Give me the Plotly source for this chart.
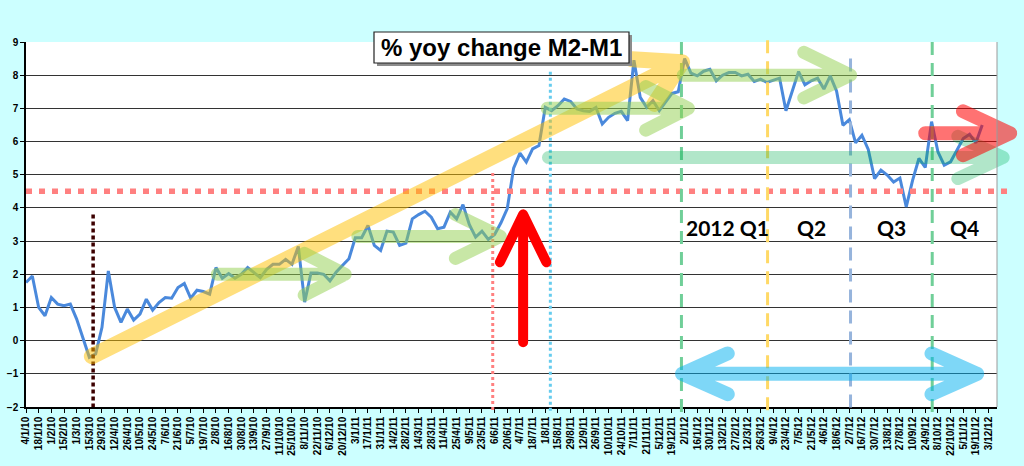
import math
import plotly.graph_objects as go

# ---------------- data ----------------
tick_labels = [
    "4/1/10", "18/1/10", "1/2/10", "15/2/10", "1/3/10", "15/3/10", "29/3/10", "12/4/10",
    "26/4/10", "10/5/10", "24/5/10", "7/6/10", "21/6/10", "5/7/10", "19/7/10", "2/8/10",
    "16/8/10", "30/8/10", "13/9/10", "27/9/10", "11/10/10", "25/10/10", "8/11/10",
    "22/11/10", "6/12/10", "20/12/10",
    "3/1/11", "17/1/11", "31/1/11", "14/2/11", "28/2/11", "14/3/11", "28/3/11", "11/4/11",
    "25/4/11", "9/5/11", "23/5/11", "6/6/11", "20/6/11", "4/7/11", "18/7/11", "1/8/11",
    "15/8/11", "29/8/11", "12/9/11", "26/9/11", "10/10/11", "24/10/11", "7/11/11",
    "21/11/11", "5/12/11", "19/12/11",
    "2/1/12", "16/1/12", "30/1/12", "13/2/12", "27/2/12", "12/3/12", "26/3/12", "9/4/12",
    "23/4/12", "7/5/12", "21/5/12", "4/6/12", "18/6/12", "2/7/12", "16/7/12", "30/7/12",
    "13/8/12", "27/8/12", "10/9/12", "24/9/12", "8/10/12", "22/10/12", "5/11/12",
    "19/11/12", "3/12/12",
]
weeks_per_tick = 2

# weekly % yoy change M2-M1 (week 0 = 4/1/10)
m2_m1_yoy = [
    1.75, 1.95, 1.00, 0.75, 1.30, 1.10, 1.05, 1.10, 0.65, 0.10,
    -0.50, -0.40, 0.40, 2.10, 1.00, 0.55, 0.95, 0.62, 0.80, 1.25,
    0.92, 1.15, 1.30, 1.28, 1.60, 1.72, 1.28, 1.52, 1.48, 1.40,
    2.20, 1.88, 2.02, 1.88, 2.00, 2.20, 2.05, 1.90, 2.15, 2.30,
    2.30, 2.45, 2.30, 2.84, 1.16, 2.04, 2.04, 2.00, 1.80, 2.07,
    2.27, 2.47, 3.10, 3.10, 3.47, 2.87, 2.72, 3.30, 3.27, 2.87,
    2.94, 3.67, 3.80, 3.90, 3.72, 3.37, 3.42, 3.87, 3.67, 4.10,
    3.50, 3.12, 3.30, 3.05, 3.20, 3.55, 3.98, 5.20, 5.65, 5.38,
    5.78, 5.88, 7.03, 6.93, 7.08, 7.28, 7.21, 6.98, 6.93, 6.91,
    7.03, 6.53, 6.73, 6.85, 6.91, 6.63, 8.45, 7.33, 7.03, 7.23,
    6.93, 7.18, 7.45, 7.50, 8.50, 8.06, 7.98, 8.12, 8.18, 7.83,
    8.00, 8.08, 8.08, 7.98, 8.03, 7.81, 7.88, 7.78, 7.85, 7.91,
    6.93, 7.53, 8.11, 7.71, 7.83, 7.91, 7.58, 7.98, 7.52, 6.49,
    6.66, 5.96, 6.19, 5.76, 4.88, 5.14, 4.99, 4.78, 4.90, 4.03,
    4.83, 5.49, 5.22, 6.60, 5.69, 5.29, 5.39, 5.74, 6.09, 6.22,
    5.96, 6.50,
]
weeks = list(range(len(m2_m1_yoy)))
tick_positions = [i * weeks_per_tick for i in range(len(tick_labels))]

title_text = "% yoy change M2-M1"
quarter_labels = ["2012 Q1", "Q2", "Q3", "Q4"]
quarter_label_x = [110.7, 124.1, 136.6, 148.2]   # in weeks
quarter_label_y = [3.4, 3.4, 3.4, 3.4]

# ---------------- layout geometry ----------------
W, H = 1024, 466
ML, MR, MT, MB = 26, 27, 42, 59
PW, PH = W - ML - MR, H - MT - MB
X0, X1 = 0, 153.33
Y0, Y1 = -2, 9


def px(w, v):
    return (w - X0) / (X1 - X0) * PW, (v - Y0) / (Y1 - Y0) * PH


def paper(p):
    return p[0] / PW, p[1] / PH


def pt(p):
    x, y = paper(p)
    return f"{x:.5f},{y:.5f}"


def head(tip, tail, L, ang):
    dx, dy = tip[0] - tail[0], tip[1] - tail[1]
    n = math.hypot(dx, dy)
    ux, uy = -dx / n, -dy / n
    a = math.radians(ang)
    w1 = (tip[0] + L * (ux * math.cos(a) - uy * math.sin(a)),
          tip[1] + L * (ux * math.sin(a) + uy * math.cos(a)))
    w2 = (tip[0] + L * (ux * math.cos(-a) - uy * math.sin(-a)),
          tip[1] + L * (ux * math.sin(-a) + uy * math.cos(-a)))
    return w1, w2


def arrow_path(tail_wv, tip_wv, L, ang, double=False):
    tail = px(*tail_wv)
    tip = px(*tip_wv)
    w1, w2 = head(tip, tail, L, ang)
    d = f"M {pt(tail)} L {pt(tip)} M {pt(w1)} L {pt(tip)} L {pt(w2)}"
    if double:
        b1, b2 = head(tail, tip, L, ang)
        d += f" M {pt(b1)} L {pt(tail)} L {pt(b2)}"
    return d


# arrows: (tail (week, value), tip (week, value), head len px, head angle, width, colour, opacity, double)
arrows = [
    ((10.4, -0.47), (103.6, 8.39), 50, 30, 16, "rgb(255,192,0)", 0.5, False),
    ((30.2, 2.0), (50.4, 2.0), 46, 27, 13, "rgb(146,208,80)", 0.5, False),
    ((52.4, 3.14), (74.9, 3.14), 50, 26, 13, "rgb(146,208,80)", 0.5, False),
    ((82.3, 7.0), (104.6, 7.0), 48, 27, 13, "rgb(146,208,80)", 0.5, False),
    ((103.8, 8.0), (130.2, 8.0), 52, 26, 13, "rgb(146,208,80)", 0.5, False),
    ((82.5, 5.52), (154.3, 5.52), 50, 25, 13, "rgb(0,176,80)", 0.3, False),
    ((142.0, 6.25), (155.4, 6.25), 52, 25, 14, "rgb(255,0,0)", 0.55, False),
    ((103.6, -1.0), (150.2, -1.0), 50, 24, 14, "rgb(0,176,240)", 0.5, True),
    ((78.5, -0.05), (78.5, 3.8), 53, 26, 10, "rgb(255,0,0)", 1.0, False),
]

# reference lines: (w0, v0, w1, v1, colour, width, dash)
ref_lines = [
    (0, 4.5, 155.1, 4.5, "#FF8080", 5.5, "6px,7px"),
    (10.6, 3.8, 10.6, -2.0, "#3C0000", 3.5, "4px,3px"),
    (73.7, 5.05, 73.7, -2.15, "#FF8080", 3, "3px,3px"),
    (82.8, 8.1, 82.8, -2.15, "#66CCEE", 3, "3px,3px"),
    (103.5, 9.0, 103.5, -2.15, "#70CF98", 3, "13px,8px"),
    (117.1, 9.05, 117.1, -2.15, "#FFD966", 3, "13px,8px"),
    (130.2, 8.5, 130.2, -2.15, "#96B4DC", 3, "13px,8px"),
    (143.1, 9.0, 143.1, -2.15, "#70CF98", 3, "13px,8px"),
]

fig = go.Figure()
fig.add_trace(go.Scatter(
    x=weeks, y=m2_m1_yoy, mode="lines",
    line=dict(color="#4A89DC", width=3), hoverinfo="skip", showlegend=False,
))

shapes = []
for (w0, v0, w1, v1, col, lw, dash) in ref_lines:
    a = paper(px(w0, v0))
    b = paper(px(w1, v1))
    shapes.append(dict(type="line", xref="paper", yref="paper", x0=a[0], y0=a[1], x1=b[0], y1=b[1],
                       line=dict(color=col, width=lw, dash=dash), layer="above"))

arrow_idx = []
for (tail, tip, L, ang, lw, col, op, dbl) in arrows:
    arrow_idx.append(len(shapes))
    shapes.append(dict(type="path", xref="paper", yref="paper", path=arrow_path(tail, tip, L, ang, dbl),
                       line=dict(color=col, width=lw), opacity=op, layer="above"))

# right border of the plot area
shapes.append(dict(type="line", xref="paper", yref="paper", x0=1, x1=1, y0=0, y1=1,
                   line=dict(color="#9A9A9A", width=1), layer="above"))


# title box with shadow (pixel coordinates -> paper)
def box_paper(l, t, r, b):
    return dict(x0=(l - ML) / PW, x1=(r - ML) / PW, y0=(H - MB - b) / PH, y1=(H - MB - t) / PH)


shapes.append(dict(type="rect", xref="paper", yref="paper", **box_paper(377, 35, 632, 66),
                   fillcolor="#8C8C8C", line=dict(width=0), layer="above"))
shapes.append(dict(type="rect", xref="paper", yref="paper", **box_paper(374, 32, 629, 63),
                   fillcolor="white", line=dict(color="#222222", width=1.2), layer="above"))

annotations = [dict(
    xref="paper", yref="paper", x=(501.5 - ML) / PW, y=(H - MB - 47.5) / PH,
    text=title_text, showarrow=False, xanchor="center", yanchor="middle",
    font=dict(family="Liberation Sans, Arial", size=24, color="black", weight="bold"),
)]
for lbl, qx, qy in zip(quarter_labels, quarter_label_x, quarter_label_y):
    p = paper(px(qx, qy))
    annotations.append(dict(
        xref="paper", yref="paper", x=p[0], y=p[1], text=lbl, showarrow=False,
        xanchor="center", yanchor="middle",
        font=dict(family="Lato, Open Sans", size=21, color="black", weight="bold"),
    ))

fig.update_layout(
    width=W, height=H,
    margin=dict(l=ML, r=MR, t=MT, b=MB, pad=0),
    paper_bgcolor="#CCFFFF", plot_bgcolor="white",
    shapes=shapes, annotations=annotations,
    showlegend=False,
    xaxis=dict(
        range=[X0, X1], tickmode="array", tickvals=tick_positions, ticktext=tick_labels,
        tickangle=-90, ticks="outside", ticklen=4, tickcolor="black", tickwidth=1,
        showline=True, linecolor="black", linewidth=1.5, showgrid=False, zeroline=False,
        tickfont=dict(family="Liberation Sans, Arial", size=10, color="black", weight="bold"),
        automargin=False, fixedrange=True,
    ),
    yaxis=dict(
        range=[Y0, Y1], tickmode="linear", tick0=-2, dtick=1,
        ticks="outside", ticklen=4, tickcolor="black", tickwidth=1,
        showline=True, linecolor="black", linewidth=1.5,
        showgrid=True, gridcolor="#333333", gridwidth=1, zeroline=False,
        tickfont=dict(family="Liberation Sans, Arial", size=10, color="black", weight="bold"),
        automargin=False, fixedrange=True,
    ),
)

sel = ",".join(f'.shapelayer path[data-index="{i}"]' for i in arrow_idx)
post_js = (
    "document.body.style.margin='0';"
    "document.body.style.background='#CCFFFF';"
    f"document.querySelectorAll('{sel}').forEach(function(p){{"
    "p.style.strokeLinecap='round';p.style.strokeLinejoin='round';});"
)

fig.write_html("out.html", post_script=post_js, config={"displayModeBar": False})
